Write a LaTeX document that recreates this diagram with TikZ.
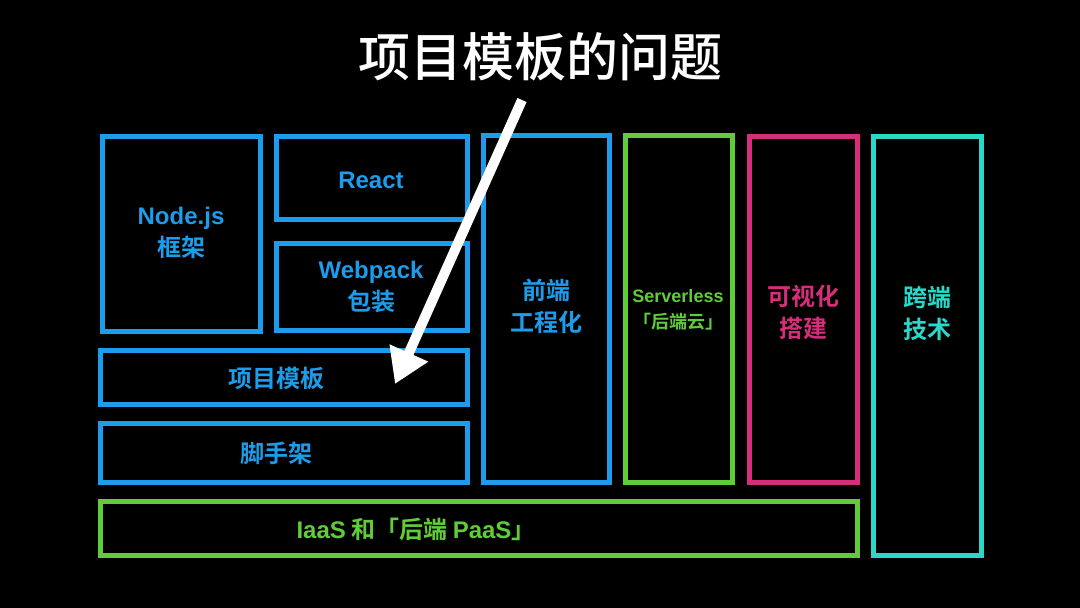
\documentclass[tikz,border=0pt]{standalone}
\usepackage{fontspec}
\setmainfont{Noto Sans CJK SC}
\newfontfamily\cjkb{Noto Sans CJK SC Bold}
\newfontfamily\cjkm{Noto Sans CJK SC Medium}
\newfontfamily\latb{Liberation Sans}[BoldFont={Liberation Sans Bold}]
\newcommand{\La}[1]{{\latb\bfseries #1}}
\usetikzlibrary{arrows.meta}
\definecolor{cblue}{RGB}{28,156,234}
\definecolor{cgreen}{RGB}{96,204,58}
\definecolor{cpink}{RGB}{214,46,122}
\definecolor{cteal}{RGB}{40,216,200}
\tikzset{
  box/.style={draw=#1, line width=5pt, inner sep=0pt, outer sep=0pt, anchor=north west},
  lbl/.style={text=#1, font=\cjkb\fontsize{24}{32}\selectfont, align=center, inner sep=0pt},
  slbl/.style={text=#1, font=\cjkb\fontsize{18}{26}\selectfont, align=center, inner sep=0pt},
  bigarrow/.style={draw=white, line width=10pt, -{Triangle[length=34pt,width=40pt]}}
}
\begin{document}
\begin{tikzpicture}[x=1pt,y=-1pt]
\fill[black] (0,0) rectangle (1080,608);
\useasboundingbox (0,0) rectangle (1080,608);
% boxes (centerline coordinates)
\node[box=cblue, minimum width=158pt, minimum height=195pt] (node) at (102,136) {};
\node[box=cblue, minimum width=191pt, minimum height=83pt] (react) at (276,136) {};
\node[box=cblue, minimum width=191pt, minimum height=87pt] (webpack) at (276,243) {};
\node[box=cblue, minimum width=367pt, minimum height=54pt] (tpl) at (100,350) {};
\node[box=cblue, minimum width=367pt, minimum height=59pt] (scaf) at (100,423) {};
\node[box=cgreen, minimum width=757pt, minimum height=54pt] (iaas) at (100,501) {};
\node[box=cblue, minimum width=126pt, minimum height=347pt] (fe) at (483,135) {};
\node[box=cgreen, minimum width=107pt, minimum height=347pt] (sls) at (625,135) {};
\node[box=cpink, minimum width=108pt, minimum height=346pt] (vis) at (749,136) {};
\node[box=cteal, minimum width=108pt, minimum height=419pt] (cross) at (873,136) {};
% labels
\node[lbl=cblue] (tnode) at (181,233) {\La{Node.js}\\框架};
\node[lbl=cblue] (treact) at (371,180) {\La{React}};
\node[lbl=cblue] (twebpack) at (371,287) {\La{Webpack}\\包装};
\node[lbl=cblue] (ttpl) at (276,378) {项目模板};
\node[lbl=cblue] (tscaf) at (276,453) {脚手架};
\node[lbl=cgreen] (tiaas) at (416,529) {\La{IaaS} 和「后端 \La{PaaS}」};
\node[lbl=cblue] (tfe) at (546,306) {前端\\工程化};
\node[slbl=cgreen] (tsls) at (678,310) {\La{Serverless}\\「后端云」};
\node[lbl=cpink] (tvis) at (803,312) {可视化\\搭建};
\node[lbl=cteal] (tcross) at (927,313) {跨端\\技术};
% title
\node[text=white, font=\cjkm\fontsize{52}{60}\selectfont, inner sep=0pt] (title) at (540,57) {项目模板的问题};
% arrow
\coordinate (as) at (522,100);
\coordinate (ae) at (395,384);
\draw[bigarrow] (as) -- (ae);
\end{tikzpicture}
\end{document}
